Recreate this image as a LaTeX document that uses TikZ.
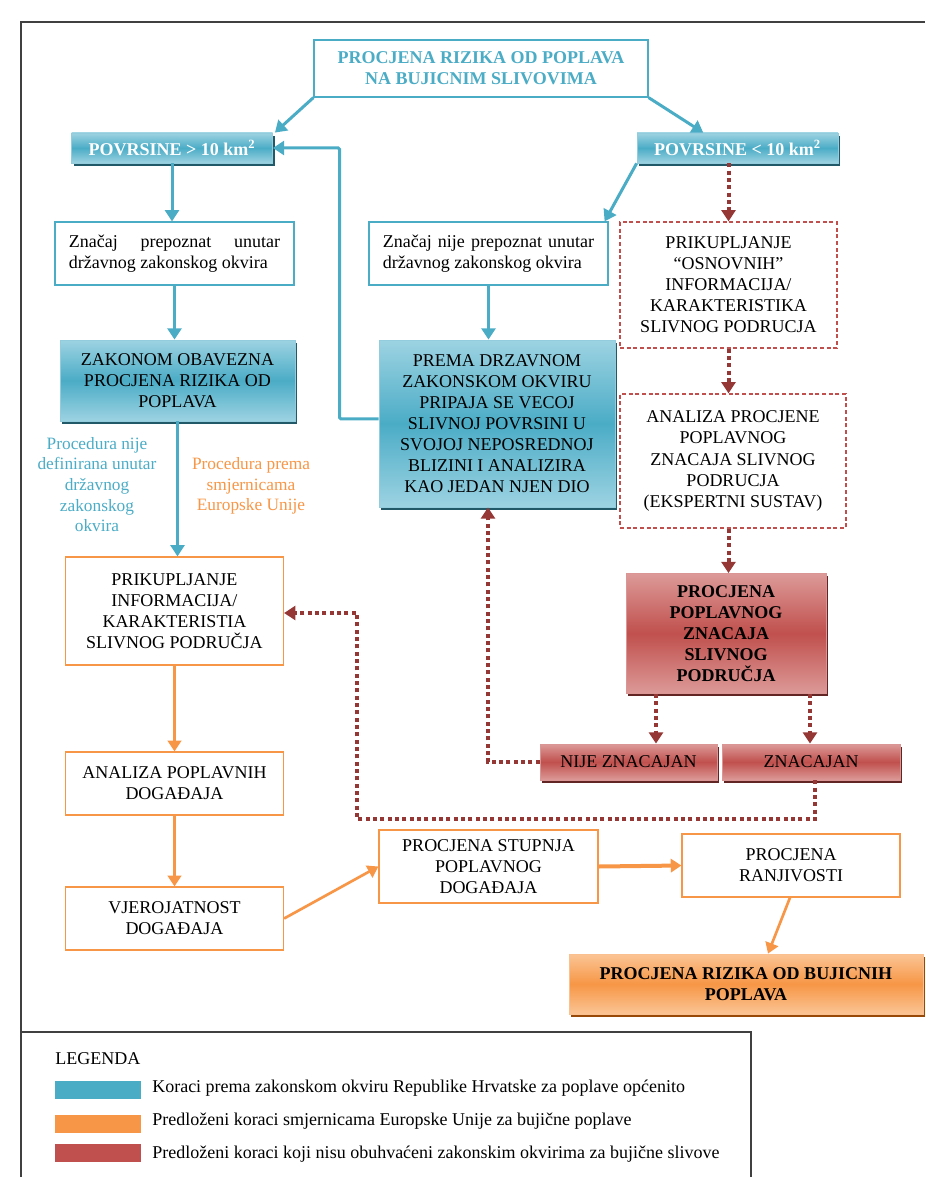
\documentclass[tikz,border=0pt]{standalone}
\usepackage{fontspec}
\setmainfont{Liberation Serif}
\usetikzlibrary{arrows.meta, shadows, calc}

\definecolor{bluec}{HTML}{4BACC6}
\definecolor{bluelt}{HTML}{9DD3E2}
\definecolor{bluedk}{HTML}{215968}
\definecolor{redc}{HTML}{C0504D}
\definecolor{redlt}{HTML}{DC9A98}
\definecolor{reddk}{HTML}{632523}
\definecolor{redarr}{HTML}{953735}
\definecolor{orangec}{HTML}{F79646}
\definecolor{orangelt}{HTML}{FBC595}
\definecolor{orangedk}{HTML}{984807}
\definecolor{framec}{HTML}{404040}

\begin{document}
\begin{tikzpicture}[x=0.75pt, y=-0.75pt,
    txt/.style={font=\fontsize{13.5}{15.8}\selectfont, align=center, inner sep=0pt},
    bold/.style={font=\fontsize{13.5}{15.8}\selectfont\bfseries, align=center, inner sep=0pt},
    plainb/.style={draw=bluec, line width=0.9pt, fill=white},
    plaino/.style={draw=orangec, line width=0.9pt, fill=white},
    dashr/.style={draw=redc, line width=0.9pt, dash pattern=on 3pt off 2pt, fill=white},
    fillb/.style={draw=bluec!60!white, line width=0.6pt, top color=bluelt, bottom color=bluelt, middle color=bluec,
        drop shadow={shadow xshift=1.5pt, shadow yshift=-2.2pt, fill=bluedk, opacity=1}},
    fillr/.style={draw=redc!60!white, line width=0.6pt, top color=redlt, bottom color=redlt, middle color=redc,
        drop shadow={shadow xshift=1.5pt, shadow yshift=-2.2pt, fill=reddk, opacity=1}},
    fillo/.style={draw=orangec!60!white, line width=0.6pt, top color=orangelt, bottom color=orangelt, middle color=orangec,
        drop shadow={shadow xshift=1.5pt, shadow yshift=-2.2pt, fill=orangedk, opacity=1}},
    barrow/.style={draw=bluec, line width=2.25pt, -{Triangle[width=10.5pt, length=8.5pt]}},
    oarrow/.style={draw=orangec, line width=2pt, -{Triangle[width=10pt, length=8pt]}},
    rarrow/.style={draw=redarr, line width=3pt, dash pattern=on 3pt off 2.5pt, -{Triangle[width=10.5pt, length=8.5pt]}}
]
\useasboundingbox (0,0) rectangle (925,1177);

% frame and legend box
\draw[framec, line width=1.1pt] (21,1177) -- (21,22) -- (925,22);
\draw[framec, line width=1.1pt] (21,1032) -- (751,1032) -- (751,1177);

% blue part
\node[plainb, bold, text=bluec, minimum width=250.5pt, minimum height=42.75pt] (top) at (481,68.5)
    {PROCJENA RIZIKA OD POPLAVA\\NA BUJICNIM SLIVOVIMA};
\node[fillb, bold, text=white, minimum width=150.75pt, minimum height=22.5pt] (pov1) at (172,148)
    {POVRSINE > 10 km\textsuperscript{2}};
\node[fillb, bold, text=white, minimum width=150.75pt, minimum height=22.5pt] (pov2) at (737.5,148)
    {POVRSINE < 10 km\textsuperscript{2}};
\node[plainb, txt, align=justify, text width=158.5pt, minimum width=179.25pt, minimum height=47.25pt] (zn1) at (174.5,253.5)
    {Značaj prepoznat unutar\linebreak državnog zakonskog okvira};
\node[plainb, txt, align=justify, text width=158.5pt, minimum width=179.25pt, minimum height=47.25pt] (zn2) at (488.5,253.5)
    {Značaj nije prepoznat unutar\linebreak državnog zakonskog okvira};
\node[fillb, txt, minimum width=176.25pt, minimum height=60.75pt] (zak) at (177.5,380.5)
    {ZAKONOM OBAVEZNA\\PROCJENA RIZIKA OD\\POPLAVA};
\node[fillb, txt, minimum width=177pt, minimum height=125.25pt] (prema) at (497,423.5)
    {PREMA DRZAVNOM\\ZAKONSKOM OKVIRU\\PRIPAJA SE VECOJ\\SLIVNOJ POVRSINI U\\SVOJOJ NEPOSREDNOJ\\BLIZINI I ANALIZIRA\\KAO JEDAN NJEN DIO};

% red part
\node[dashr, txt, minimum width=162.75pt, minimum height=94.5pt] (prik1) at (728.5,285)
    {PRIKUPLJANJE\\“OSNOVNIH”\\INFORMACIJA/\\KARAKTERISTIKA\\SLIVNOG PODRUCJA};
\node[dashr, txt, minimum width=169.5pt, minimum height=100.5pt] (anal1) at (733,461)
    {ANALIZA PROCJENE\\POPLAVNOG\\ZNACAJA SLIVNOG\\PODRUCJA\\(EKSPERTNI SUSTAV)};
\node[fillr, bold, minimum width=150pt, minimum height=90pt] (ppz) at (726,633.5)
    {PROCJENA\\POPLAVNOG\\ZNACAJA\\SLIVNOG\\PODRUČJA};
\node[fillr, txt, minimum width=132.75pt, minimum height=27pt] (nije) at (628.5,762)
    {NIJE ZNACAJAN};
\node[fillr, txt, minimum width=133.5pt, minimum height=27pt] (znac) at (811,762)
    {ZNACAJAN};

% labels
\node[txt, text=bluec, font=\fontsize{13}{15.5}\selectfont] (lblb) at (97,484.5)
    {Procedura nije\\definirana unutar\\državnog\\zakonskog\\okvira};
\node[txt, text=orangec, font=\fontsize{13}{15.5}\selectfont] (lblo) at (251,486)
    {Procedura prema\\smjernicama\\Europske Unije};

% orange part
\node[plaino, txt, minimum width=163.5pt, minimum height=81pt] (prik2) at (174.5,611)
    {PRIKUPLJANJE\\INFORMACIJA/\\KARAKTERISTIA\\SLIVNOG PODRUČJA};
\node[plaino, txt, minimum width=163.5pt, minimum height=47.25pt] (anal2) at (174.5,783.5)
    {ANALIZA POPLAVNIH\\DOGAĐAJA};
\node[plaino, txt, minimum width=163.5pt, minimum height=47.25pt] (vjer) at (174.5,918.5)
    {VJEROJATNOST\\DOGAĐAJA};
\node[plaino, txt, minimum width=164.25pt, minimum height=54.75pt] (stup) at (488.5,866.5)
    {PROCJENA STUPNJA\\POPLAVNOG\\DOGAĐAJA};
\node[plaino, txt, minimum width=163.5pt, minimum height=47.25pt] (ranj) at (791,865.5)
    {PROCJENA\\RANJIVOSTI};
\node[fillo, bold, minimum width=265.5pt, minimum height=45pt] (rizik) at (746,984)
    {PROCJENA RIZIKA OD BUJICNIH\\POPLAVA};

% blue arrows
\draw[barrow] (top.south west) -- ([xshift=1.5pt]pov1.north east);
\draw[barrow] (top.south east) -- ($(pov2.north west)!0.33!(pov2.north east)$);
\draw[barrow] (pov1.south) -- (pov1.south |- zn1.north);
\draw[barrow] (pov2.south west) -- ([xshift=-3pt]zn2.north east);
\draw[barrow] (zn1.south) -- (zn1.south |- zak.north);
\draw[barrow] (zn2.south) -- (zn2.south |- prema.north);
\draw[barrow, rounded corners=1pt] ([yshift=3.4pt]prema.west) -- ++(-39,0) |- (pov1.east);
\draw[barrow] (zak.south) -- (zak.south |- prik2.north);

% red arrows
\draw[rarrow] (prik1.north |- pov2.south) -- (prik1.north);
\draw[rarrow] (prik1.south) -- (prik1.south |- anal1.north);
\draw[rarrow] (prik1.south |- anal1.south) -- (prik1.south |- ppz.north);
\draw[rarrow] ([xshift=-52.5pt]ppz.south) -- ([xshift=-52.5pt]ppz.south |- nije.north);
\draw[rarrow] ([xshift=63pt]ppz.south) -- ([xshift=63pt]ppz.south |- znac.north);
\draw[rarrow] (nije.west) -| ([xshift=-6.75pt]prema.south);
\draw[rarrow] ([xshift=3pt]znac.south) |- (357,819) |- ([yshift=-1.5pt]prik2.east);

% orange arrows
\draw[oarrow] (prik2.south) -- (prik2.south |- anal2.north);
\draw[oarrow] (anal2.south) -- (anal2.south |- vjer.north);
\draw[oarrow] (vjer.east) -- (stup.west);
\draw[oarrow, line width=3pt] (stup.east) -- (ranj.west);
\draw[oarrow] ([xshift=-0.75pt]ranj.south) -- ([xshift=16.5pt]rizik.north);

% legend
\node[txt, font=\fontsize{13.5}{15.5}\selectfont, anchor=west] (leg) at (55,1059) {LEGENDA};
\fill[bluec] (55,1081) rectangle (141,1099);
\fill[orangec] (55,1115) rectangle (141,1133);
\fill[redc] (55,1144) rectangle (141,1162);
\node[txt, font=\fontsize{13.5}{15.5}\selectfont, anchor=west] (legb) at (152,1088)
    {Koraci prema zakonskom okviru Republike Hrvatske za poplave općenito};
\node[txt, font=\fontsize{13.5}{15.5}\selectfont, anchor=west] (lego) at (152,1121)
    {Predloženi koraci smjernicama Europske Unije za bujične poplave};
\node[txt, font=\fontsize{13.5}{15.5}\selectfont, anchor=west] (legr) at (152,1154)
    {Predloženi koraci koji nisu obuhvaćeni zakonskim okvirima za bujične slivove};
\end{tikzpicture}
\end{document}
